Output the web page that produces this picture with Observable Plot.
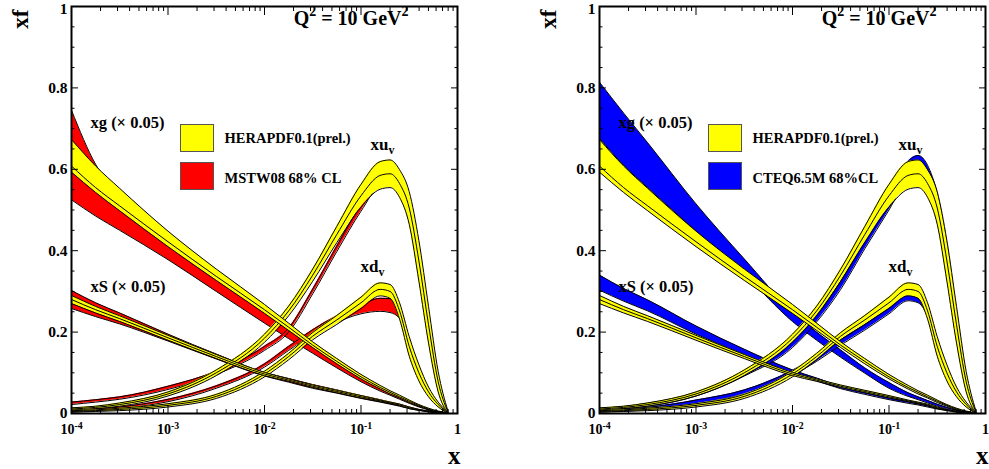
<!DOCTYPE html>
<html>
<head>
<meta charset="utf-8">
<script src="https://cdn.jsdelivr.net/npm/d3@7"></script>
<script src="https://cdn.jsdelivr.net/npm/@observablehq/plot@0.6"></script>
<style>
  body { margin: 0; background: #fff; }
  #wrap { position: relative; width: 989px; height: 469px; background: #fff; }
  #wrap svg { position: absolute; top: 0; }
</style>
</head>
<body>
<div id="wrap"></div>
<script>
// ---------------- data ----------------
const xGrid = [0.0001, 0.000178, 0.000316, 0.001, 0.00316, 0.01, 0.0178, 0.0316, 0.0562, 0.1, 0.158, 0.2, 0.251, 0.316, 0.398, 0.501, 0.631, 0.794];

// HERAPDF0.1 (prel.) – gluon (x 0.05)
const heraGluonCentral = [0.608, 0.555, 0.51, 0.422, 0.337, 0.255, 0.212, 0.168, 0.128, 0.09, 0.064, 0.052, 0.041, 0.03, 0.02, 0.011, 0.005, 0.001];
const heraGluonUpper   = [0.673, 0.608, 0.553, 0.448, 0.355, 0.268, 0.222, 0.176, 0.135, 0.096, 0.069, 0.056, 0.045, 0.033, 0.022, 0.013, 0.006, 0.0015];
const heraGluonLower   = [0.593, 0.543, 0.498, 0.41, 0.327, 0.246, 0.204, 0.162, 0.122, 0.085, 0.06, 0.048, 0.038, 0.027, 0.018, 0.009, 0.004, 0.0007];
// HERAPDF0.1 – sea (x 0.05)
const heraSeaCentral = [0.28, 0.255, 0.233, 0.186, 0.14, 0.097, 0.082, 0.067, 0.054, 0.041, 0.031, 0.026, 0.021, 0.014, 0.009, 0.005, 0.002, 0.0005];
const heraSeaUpper   = [0.29, 0.263, 0.24, 0.192, 0.145, 0.101, 0.085, 0.07, 0.057, 0.044, 0.033, 0.028, 0.023, 0.016, 0.010, 0.0058, 0.0025, 0.0007];
const heraSeaLower   = [0.27, 0.247, 0.226, 0.18, 0.135, 0.093, 0.079, 0.064, 0.051, 0.038, 0.029, 0.024, 0.019, 0.012, 0.008, 0.0042, 0.0015, 0.0003];
// HERAPDF0.1 – xu_v
const heraUvCentral = [0.011, 0.015, 0.022, 0.048, 0.1, 0.185, 0.252, 0.34, 0.44, 0.535, 0.585, 0.589, 0.565, 0.505, 0.375, 0.218, 0.078, 0.004];
const heraUvUpper   = [0.014, 0.018, 0.026, 0.053, 0.107, 0.195, 0.264, 0.355, 0.46, 0.563, 0.619, 0.623, 0.599, 0.545, 0.425, 0.263, 0.103, 0.007];
const heraUvLower   = [0.008, 0.012, 0.018, 0.043, 0.093, 0.175, 0.24, 0.325, 0.42, 0.507, 0.551, 0.555, 0.531, 0.465, 0.325, 0.173, 0.053, 0.001];
// HERAPDF0.1 – xd_v
const heraDvCentral = [0.005, 0.007, 0.01, 0.02, 0.042, 0.097, 0.14, 0.19, 0.23, 0.272, 0.305, 0.3, 0.252, 0.165, 0.1, 0.053, 0.022, 0.002];
const heraDvUpper   = [0.007, 0.009, 0.013, 0.024, 0.047, 0.104, 0.148, 0.199, 0.241, 0.286, 0.321, 0.317, 0.272, 0.189, 0.12, 0.065, 0.028, 0.003];
const heraDvLower   = [0.003, 0.005, 0.007, 0.016, 0.037, 0.09, 0.132, 0.181, 0.219, 0.258, 0.289, 0.283, 0.232, 0.141, 0.08, 0.041, 0.016, 0.001];

// MSTW08 68% CL
const mstwGluonHigh = [0.745, 0.612, 0.535, 0.432, 0.345, 0.25, 0.207, 0.166, 0.126, 0.088, 0.063, 0.051, 0.04, 0.03, 0.02, 0.011, 0.005, 0.0012];
const mstwGluonLow  = [0.525, 0.485, 0.45, 0.378, 0.3, 0.222, 0.184, 0.148, 0.112, 0.078, 0.055, 0.045, 0.035, 0.025, 0.016, 0.009, 0.004, 0.0008];
const mstwSeaHigh = [0.302, 0.272, 0.247, 0.195, 0.146, 0.101, 0.086, 0.071, 0.058, 0.044, 0.034, 0.028, 0.023, 0.016, 0.010, 0.006, 0.0025, 0.0007];
const mstwSeaLow  = [0.258, 0.238, 0.22, 0.178, 0.134, 0.092, 0.077, 0.062, 0.05, 0.037, 0.028, 0.023, 0.018, 0.012, 0.0075, 0.004, 0.0015, 0.0003];
const mstwUvHigh = [0.028, 0.034, 0.041, 0.067, 0.104, 0.165, 0.21, 0.306, 0.412, 0.513, 0.58, 0.585, 0.565, 0.51, 0.379, 0.219, 0.079, 0.004];
const mstwUvLow  = [0.022, 0.028, 0.035, 0.059, 0.096, 0.155, 0.2, 0.294, 0.398, 0.497, 0.56, 0.565, 0.545, 0.49, 0.361, 0.205, 0.071, 0.002];
const mstwDvHigh = [0.008, 0.011, 0.016, 0.035, 0.068, 0.122, 0.165, 0.206, 0.24, 0.267, 0.283, 0.282, 0.258, 0.175, 0.108, 0.058, 0.025, 0.003];
const mstwDvLow  = [0.004, 0.007, 0.012, 0.029, 0.062, 0.114, 0.155, 0.194, 0.224, 0.245, 0.251, 0.248, 0.234, 0.155, 0.092, 0.048, 0.019, 0.001];

// CTEQ6.5M 68%CL
const cteqGluonHigh = [0.814, 0.738, 0.665, 0.515, 0.38, 0.25, 0.2, 0.156, 0.112, 0.076, 0.051, 0.041, 0.032, 0.023, 0.015, 0.008, 0.004, 0.001];
const cteqGluonLow  = [0.676, 0.61, 0.555, 0.448, 0.342, 0.226, 0.18, 0.138, 0.099, 0.062, 0.042, 0.034, 0.026, 0.018, 0.011, 0.006, 0.002, 0.0005];
const cteqSeaHigh = [0.34, 0.307, 0.279, 0.215, 0.158, 0.107, 0.087, 0.067, 0.052, 0.039, 0.029, 0.024, 0.019, 0.013, 0.009, 0.005, 0.002, 0.0006];
const cteqSeaLow  = [0.303, 0.276, 0.252, 0.195, 0.145, 0.099, 0.08, 0.061, 0.047, 0.034, 0.025, 0.021, 0.016, 0.011, 0.007, 0.003, 0.001, 0.0002];
const cteqUvHigh = [0.013, 0.017, 0.025, 0.052, 0.105, 0.19, 0.245, 0.325, 0.43, 0.535, 0.62, 0.634, 0.61, 0.54, 0.41, 0.24, 0.085, 0.005];
const cteqUvLow  = [0.009, 0.012, 0.018, 0.043, 0.092, 0.162, 0.225, 0.305, 0.405, 0.5, 0.58, 0.59, 0.57, 0.505, 0.37, 0.205, 0.07, 0.003];
const cteqDvHigh = [0.007, 0.01, 0.015, 0.033, 0.058, 0.106, 0.14, 0.181, 0.218, 0.26, 0.294, 0.29, 0.255, 0.172, 0.104, 0.055, 0.023, 0.0025];
const cteqDvLow  = [0.004, 0.006, 0.009, 0.024, 0.048, 0.094, 0.128, 0.168, 0.205, 0.245, 0.277, 0.272, 0.238, 0.158, 0.094, 0.049, 0.019, 0.0015];

// axis ticks and labels
const xMajorTicks = [1e-4, 1e-3, 1e-2, 1e-1, 1];
const xTickLabels = ["10^{-4}", "10^{-3}", "10^{-2}", "10^{-1}", "1"];
const xMinorTicks = [2e-4,3e-4,4e-4,5e-4,6e-4,7e-4,8e-4,9e-4, 2e-3,3e-3,4e-3,5e-3,6e-3,7e-3,8e-3,9e-3, 2e-2,3e-2,4e-2,5e-2,6e-2,7e-2,8e-2,9e-2, 0.2,0.3,0.4,0.5,0.6,0.7,0.8,0.9];
const yMajorTicks = [0, 0.2, 0.4, 0.6, 0.8, 1];
const yTickLabels = ["0", "0.2", "0.4", "0.6", "0.8", "1"];
const yMinorTicks = [0.05,0.1,0.15,0.25,0.3,0.35,0.45,0.5,0.55,0.65,0.7,0.75,0.85,0.9,0.95];

const yAxisTitle = "xf";
const xAxisTitle = "x";
const scaleLabel = "Q^{2} = 10 GeV^{2}";
const curveLabels = ["xg (\u00d7 0.05)", "xS (\u00d7 0.05)", "xu_{v}", "xd_{v}"];
const heraName = "HERAPDF0.1(prel.)";
const compareNames = ["MSTW08 68% CL", "CTEQ6.5M 68%CL"];

// ---------------- build ----------------
const rows = xGrid.map((x, i) => ({
  x,
  hgC: heraGluonCentral[i], hgU: heraGluonUpper[i], hgL: heraGluonLower[i],
  hsC: heraSeaCentral[i], hsU: heraSeaUpper[i], hsL: heraSeaLower[i],
  huC: heraUvCentral[i], huU: heraUvUpper[i], huL: heraUvLower[i],
  hdC: heraDvCentral[i], hdU: heraDvUpper[i], hdL: heraDvLower[i],
  mgH: mstwGluonHigh[i], mgL: mstwGluonLow[i], msH: mstwSeaHigh[i], msL: mstwSeaLow[i],
  muH: mstwUvHigh[i], muL: mstwUvLow[i], mdH: mstwDvHigh[i], mdL: mstwDvLow[i],
  cgH: cteqGluonHigh[i], cgL: cteqGluonLow[i], csH: cteqSeaHigh[i], csL: cteqSeaLow[i],
  cuH: cteqUvHigh[i], cuL: cteqUvLow[i], cdH: cteqDvHigh[i], cdL: cteqDvLow[i]
}));

const curve = "monotone-x";
function band(lo, hi, fill, mid) {
  const m = [Plot.areaY(rows, {x: "x", y1: lo, y2: hi, fill, curve})];
  for (const k of (mid ? [lo, mid, hi] : [lo, hi]))
    m.push(Plot.lineY(rows, {x: "x", y: k, stroke: "black", strokeWidth: 1, curve}));
  return m;
}

const FONT = "'Liberation Serif', 'Times New Roman', serif";
const panels = [
  {left: 0, width: 494, marginLeft: 71, marginRight: 37, color: "#ff0000", prefix: "m", name: compareNames[0]},
  {left: 494, width: 495, marginLeft: 105, marginRight: 4, color: "#0000ff", prefix: "c", name: compareNames[1]}
];
const MT = 6, MB = 56, H = 469;

function ann(text, dx, dy, fontSize, textAnchor = "start", rotate = 0) {
  return Plot.text([text], {text: d => d, frameAnchor: "top-left", dx, dy, fontSize, textAnchor,
    lineAnchor: "bottom", rotate, fill: "black", fontWeight: "bold"});
}

const svgns = "http://www.w3.org/2000/svg";
function richText(el) {
  const s = el.textContent;
  if (!/[\^_]\{/.test(s)) return;
  const fs = parseFloat(getComputedStyle(el).fontSize) || 14;
  const parts = []; const re = /([\^_])\{([^}]*)\}/g; let last = 0, m;
  while ((m = re.exec(s))) {
    if (m.index > last) parts.push({t: s.slice(last, m.index), k: ""});
    parts.push({t: m[2], k: m[1]}); last = re.lastIndex;
  }
  if (last < s.length) parts.push({t: s.slice(last), k: ""});
  el.textContent = "";
  let shift = 0;
  for (const p of parts) {
    const ts = document.createElementNS(svgns, "tspan");
    const target = p.k === "^" ? -0.42 : p.k === "_" ? 0.28 : 0;
    ts.setAttribute("dy", ((target - shift) * fs).toFixed(2));
    if (p.k) ts.setAttribute("font-size", (0.7 * fs).toFixed(1));
    ts.textContent = p.t;
    el.appendChild(ts);
    shift = target;
  }
}

const yLabelTicksLow = yMajorTicks.slice(0, -1);
const yLabelTicksTop = yMajorTicks.slice(-1);
const yLabel = d => yTickLabels[yMajorTicks.indexOf(d)];

const wrap = document.getElementById("wrap");
for (const P of panels) {
  const c = P.prefix;
  const svg = Plot.plot({
    width: P.width, height: H,
    marginLeft: P.marginLeft, marginRight: P.marginRight, marginTop: MT, marginBottom: MB,
    x: {type: "log", domain: [1e-4, 1], label: null},
    y: {domain: [0, 1], label: null},
    style: {fontFamily: FONT, fontWeight: "bold", background: "white", overflow: "visible", color: "black"},
    marks: [
      // comparison bands
      ...band(c + "gL", c + "gH", P.color),
      ...band(c + "sL", c + "sH", P.color),
      ...band(c + "uL", c + "uH", P.color),
      ...band(c + "dL", c + "dH", P.color),
      // HERAPDF bands
      ...band("huL", "huU", "#ffff00", "huC"),
      ...band("hdL", "hdU", "#ffff00", "hdC"),
      ...band("hsL", "hsU", "#ffff00", "hsC"),
      ...band("hgL", "hgU", "#ffff00", "hgC"),
      // axes (ticks inside on all four sides)
      Plot.axisX({anchor: "bottom", ticks: xMajorTicks, tickSize: -8, tickFormat: () => "", label: null}),
      Plot.axisX({anchor: "bottom", ticks: xMinorTicks, tickSize: -4, tickFormat: () => "", label: null}),
      Plot.axisX({anchor: "top", ticks: xMajorTicks, tickSize: -8, tickFormat: () => "", label: null}),
      Plot.axisX({anchor: "top", ticks: xMinorTicks, tickSize: -4, tickFormat: () => "", label: null}),
      Plot.axisX({anchor: "bottom", ticks: xMajorTicks, tickSize: 0, tickPadding: 11, fontSize: 14,
        tickFormat: d => xTickLabels[xMajorTicks.indexOf(d)], label: null}),
      Plot.axisY({anchor: "left", ticks: yMajorTicks, tickSize: -7, tickFormat: () => "", label: null}),
      Plot.axisY({anchor: "left", ticks: yMinorTicks, tickSize: -3.5, tickFormat: () => "", label: null}),
      Plot.axisY({anchor: "right", ticks: yMajorTicks, tickSize: -7, tickFormat: () => "", label: null}),
      Plot.axisY({anchor: "right", ticks: yMinorTicks, tickSize: -3.5, tickFormat: () => "", label: null}),
      Plot.axisY({anchor: "left", ticks: yLabelTicksLow, tickSize: 0, tickPadding: 4, fontSize: 15.5,
        tickFormat: yLabel, label: null}),
      Plot.axisY({anchor: "left", ticks: yLabelTicksTop, tickSize: 0, tickPadding: 4, fontSize: 15.5,
        tickFormat: yLabel, label: null, dy: 3}),
      Plot.frame({stroke: "black", strokeWidth: 2}),
      // titles and labels
      ann(yAxisTitle, -44, 3, 23, "end", -90),
      ann(xAxisTitle, 389, 457, 25, "end"),
      ann(scaleLabel, 337, 18, 20, "end"),
      ann(curveLabels[0], 19, 121, 16.5),
      ann(curveLabels[1], 19, 285, 16.5),
      ann(curveLabels[2], 299, 143, 17),
      ann(curveLabels[3], 289, 265, 17),
      ann(heraName, 153, 136, 14.5),
      ann(P.name, 153, 176, 14.5)
    ]
  });
  svg.style.left = P.left + "px";
  wrap.appendChild(svg);
  // legend boxes
  const g = d3.select(svg).append("g");
  [["#ffff00", 118], [P.color, 156]].forEach(([fill, top]) => {
    g.append("rect").attr("x", P.marginLeft + 109.5).attr("y", MT + top + 0.5)
      .attr("width", 33).attr("height", 27).attr("fill", fill)
      .attr("stroke", "#555").attr("stroke-width", 1);
  });
  d3.select(svg).selectAll("text").each(function() { richText(this); });
}
</script>
</body>
</html>
